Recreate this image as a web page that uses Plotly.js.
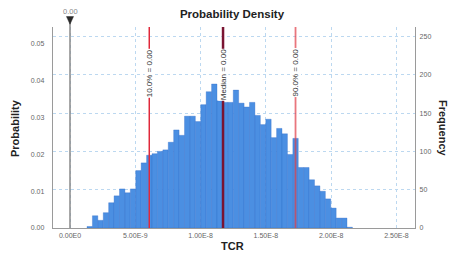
<!DOCTYPE html>
<html>
<head>
<meta charset="utf-8">
<script src="https://cdn.plot.ly/plotly-3.0.1.min.js"></script>
<style>html,body{margin:0;padding:0;background:#fff;}#chart{width:451px;height:254px;}</style>
</head>
<body>
<div id="chart"></div>
<script>
// Bin centres of the histogram (TCR, in units of 1E-9)
const binCenters = [1.509,1.924,2.339,2.754,3.168,3.583,3.998,4.413,4.828,5.243,
  5.657,6.072,6.487,6.902,7.317,7.731,8.146,8.561,8.976,9.391,
  9.806,10.220,10.635,11.050,11.465,11.880,12.295,12.709,13.124,13.539,
  13.954,14.369,14.784,15.198,15.613,16.028,16.443,16.858,17.273,17.687,
  18.102,18.517,18.932,19.347,19.762,20.176,20.591,21.006,21.421];
// Frequencies (right axis)
const frequencies = [2,16,10,20,33,42,51,46,51,75,
  85,95,97,100,102,112,128,121,146,146,
  139,161,178,188,166,164,164,180,163,158,
  164,147,135,142,118,130,123,96,117,79,
  79,63,55,48,38,26,13,13,1];
const binWidth = 0.4148;
// Marker lines
const markerNames = ['10.0% = 0.00','Median = 0.00','90.0% = 0.00'];
const markerValues = [6.07, 11.72, 17.27];
const zeroValue = 0;
const zeroLabel = '0.00';
// Ticks
const xTickVals = [0,5,10,15,20,25];
const xTickText = ['0.00E0','5.00E-9','1.00E-8','1.50E-8','2.00E-8','2.50E-8'];
const yLeftTicks = [0,0.01,0.02,0.03,0.04,0.05];
const yRightTicks = [0,50,100,150,200,250];

const F = '"Liberation Sans", Arial, sans-serif';
const gridCol = '#bcd8f0';
const axCol = '#9a9a9a';
const tickCol = '#666';

const traces = [
  // probability (left) axis anchor: invisible point at the origin
  {type:'scatter', mode:'markers', x:[zeroValue], y:[0], yaxis:'y',
   marker:{opacity:0, size:1}, hoverinfo:'skip', showlegend:false},
  {type:'bar', x:binCenters, y:frequencies, yaxis:'y2', width:binWidth,
   marker:{color:'#4b8fe2', line:{color:'rgba(45,105,200,0.55)', width:0.6}},
   hoverinfo:'skip', showlegend:false}
];

const markerColors = ['#e0283a','#7a1432','rgba(224,60,70,0.7)'];
const markerWidths = [1.5, 2.5, 1.8];
const labelCenters = [0.771, 0.760, 0.771];
const triHalf = 0.27;
const shapes = [
  {type:'line', xref:'x', yref:'paper', x0:zeroValue, x1:zeroValue, y0:0, y1:1.035,
   line:{color:'#8a8a8a', width:1.5}, layer:'above'},
  {type:'path', xref:'x', yref:'paper',
   path:'M '+(zeroValue-triHalf)+',1.052 L '+(zeroValue+triHalf)+',1.052 L '+zeroValue+',1.014 Z',
   fillcolor:'#2a2a2a', line:{color:'#2a2a2a', width:0.5}, layer:'above'}
];
const annotations = [];
markerValues.forEach((v,i)=>{
  shapes.push({type:'line', xref:'x', yref:'paper', x0:v, x1:v, y0:0, y1:1,
    line:{color:markerColors[i], width:markerWidths[i]}, layer:'above'});
  annotations.push({xref:'x', yref:'paper', x:v, y:labelCenters[i], text:markerNames[i],
    textangle:-90, showarrow:false, font:{family:F, size:8, color:'#333'},
    bgcolor:'#ffffff', borderpad:0, xanchor:'center', yanchor:'middle'});
});
annotations.push({xref:'x', yref:'paper', x:zeroValue, y:1.078, text:zeroLabel, showarrow:false,
  font:{family:F, size:7.5, color:'#8a8a8a'}, xanchor:'center', yanchor:'middle'});
annotations.push({xref:'paper', yref:'paper', x:(15-53)/362, y:(228-128)/201, text:'<b>Probability</b>',
  textangle:-90, showarrow:false, font:{family:F, size:11, color:'#222'}, xanchor:'center', yanchor:'middle'});
annotations.push({xref:'paper', yref:'paper', x:(443-53)/362, y:(228-128)/201, text:'<b>Frequency</b>',
  textangle:90, showarrow:false, font:{family:F, size:11, color:'#222'}, xanchor:'center', yanchor:'middle'});
annotations.push({xref:'paper', yref:'paper', x:(232-53)/362, y:(228-246)/201, text:'<b>TCR</b>',
  showarrow:false, font:{family:F, size:11, color:'#222'}, xanchor:'center', yanchor:'middle'});

const layout = {
  width:451, height:254,
  margin:{l:53, r:36, t:27, b:26, pad:0},
  paper_bgcolor:'#fff', plot_bgcolor:'#fff',
  title:{text:'<b>Probability Density</b>', font:{family:F, size:11.5, color:'#222'},
    x:232/451, xanchor:'center', xref:'container', y:1-14/254, yanchor:'middle', yref:'container'},
  bargap:0,
  xaxis:{range:[-1.302, 26.42], tickvals:xTickVals, ticktext:xTickText, showgrid:true,
    gridcolor:gridCol, griddash:'dot', gridwidth:1, zeroline:false, showline:true, linecolor:axCol, linewidth:1.2,
    ticks:'', tickfont:{family:F, size:7, color:tickCol}, fixedrange:true},
  yaxis:{range:[0, 0.0546], tickvals:yLeftTicks, tickformat:'.2f', showgrid:false, zeroline:false,
    showline:true, linecolor:axCol, linewidth:1.2, ticks:'', ticklabelstandoff:6,
    tickfont:{family:F, size:7, color:tickCol}},
  yaxis2:{range:[0, 262.4], tickvals:yRightTicks, overlaying:'y', side:'right', showgrid:true,
    gridcolor:gridCol, griddash:'dot', gridwidth:1, zeroline:false, showline:true, linecolor:axCol, linewidth:1.2,
    ticks:'', ticklabelstandoff:2, tickfont:{family:F, size:7, color:tickCol}},
  shapes:shapes,
  annotations:annotations,
  showlegend:false
};
Plotly.newPlot('chart', traces, layout, {staticPlot:true, displayModeBar:false});
</script>
</body>
</html>
